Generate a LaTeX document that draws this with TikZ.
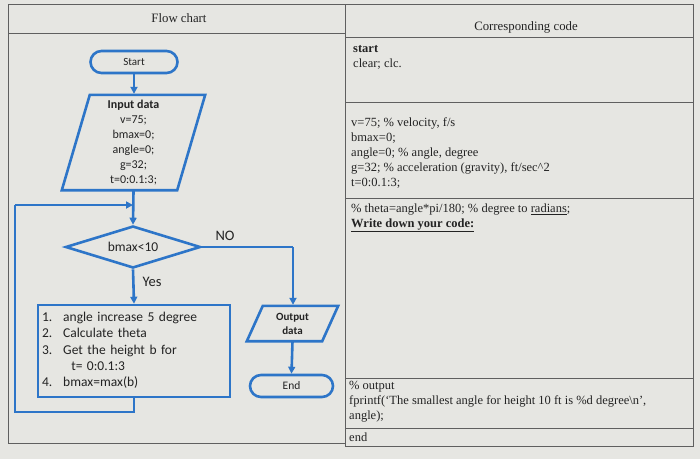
\documentclass[tikz,border=0pt]{standalone}
\usepackage{fontspec}
\setmainfont{Liberation Serif}
\newfontfamily\carl{Carlito}
\usetikzlibrary{shapes.geometric,arrows.meta}
\definecolor{bg}{RGB}{230,230,226}
\definecolor{fcblue}{RGB}{45,117,200}
\definecolor{rule}{RGB}{95,95,95}
\definecolor{ink}{RGB}{35,35,35}
\tikzset{
  fc/.style={draw=fcblue, line width=2.6pt},
  term/.style={fc, rounded corners=11pt, minimum width=87pt, minimum height=22pt, inner sep=0pt, font=\carl\fontsize{11}{12}\selectfont, text=ink},
  flow/.style={draw=fcblue, line width=2.6pt, -{Triangle[length=7pt,width=7pt]}},
  plain/.style={draw=fcblue, line width=2.6pt},
  tab/.style={draw=rule, line width=0.9pt},
  code/.style={anchor=west, inner sep=0pt, font=\fontsize{12.5}{15}\selectfont, text=ink, align=left},
  lbl/.style={inner sep=0pt, font=\carl\fontsize{14.5}{16}\selectfont, text=ink},
}
\begin{document}
\begin{tikzpicture}[x=1pt,y=-1pt]
\fill[bg] (0,0) rectangle (700,459);
\useasboundingbox (0,0) rectangle (700,459);
% table
\draw[tab] (8,4) -- (693,4);
\draw[tab] (8,4) -- (8,443) -- (345,443);
\draw[tab] (345,4) -- (345,446) -- (693,446) -- (693,4);
\draw[tab] (8,33) -- (345,33);
\draw[tab] (345,37) -- (693,37);
\draw[tab] (345,102) -- (693,102);
\draw[tab] (345,198) -- (693,198);
\draw[tab] (345,378) -- (693,378);
\draw[tab] (345,428) -- (693,428);
\node[inner sep=0pt, font=\fontsize{12.8}{14}\selectfont, text=ink] (h1) at (179,18) {Flow chart};
\node[inner sep=0pt, font=\fontsize{12.8}{14}\selectfont, text=ink] (h2) at (526,27) {Corresponding code};
% code column
\node[code] (c1) at (353,57) {\textbf{start}\\clear; clc.};
\node[code] (c2) at (351,153) {v=75; \% velocity, f/s\\bmax=0;\\angle=0; \% angle, degree\\g=32; \% acceleration (gravity), ft/sec\^{}2\\t=0:0.1:3;};
\node[code] (c3) at (351,218) {\% theta=angle*pi/180; \% degree to \underline{radians};\\\textbf{\underline{Write down your code:}}};
\node[code] (c4) at (349,402) {\% output\\fprintf(`The smallest angle for height 10 ft is \%d degree\textbackslash n',\\angle);};
\node[code] (c5) at (349,437) {end};
% flowchart nodes
\node[term] (start) at (134,62) {Start};
\node[inner sep=0pt, minimum width=115pt, minimum height=95pt, align=center, font=\carl\fontsize{12}{15}\selectfont, text=ink] (inp) at (133.5,142.5) {\textbf{Input data}\\v=75;\\bmax=0;\\angle=0;\\g=32;\\t=0:0.1:3;};
\draw[fc] ([xshift=14pt]inp.north west) -- ([xshift=14pt]inp.north east) -- ([xshift=-14pt]inp.south east) -- ([xshift=-14pt]inp.south west) -- cycle;
\node[diamond, aspect=3.2, fc, minimum width=135pt, minimum height=42pt, inner sep=0pt, font=\carl\fontsize{13.5}{14}\selectfont, text=ink] (dec) at (133,247) {bmax<10};
\node[fc, minimum width=192pt, minimum height=92pt, inner xsep=4pt, text width=184pt, align=left, font=\carl\fontsize{13.5}{16.3}\selectfont, text=ink] (proc) at (134,351)
  {\begin{tabular}{@{}l@{\hspace{11pt}}l@{}}1.& angle increase 5 degree\\2.& Calculate theta\\3.& Get the height b for\\& \hspace{8pt}t= 0:0.1:3\\4.& bmax=max(b)\end{tabular}};
\node[inner sep=0pt, minimum width=75pt, minimum height=35pt, align=center, font=\carl\bfseries\fontsize{11}{14}\selectfont, text=ink] (out) at (292.5,323.5) {Output\\data};
\draw[fc] ([xshift=8pt]out.north west) -- ([xshift=8pt]out.north east) -- ([xshift=-8pt]out.south east) -- ([xshift=-8pt]out.south west) -- cycle;
\node[term, minimum width=83pt, font=\carl\fontsize{11.5}{12}\selectfont] (end) at (291.5,386) {End};
\node[lbl] (no) at (225,236) {NO};
\node[lbl] (yes) at (152,282) {Yes};
% connectors
\coordinate (bl) at (15,412);
\coordinate (tl) at (15,205);
\coordinate (jn) at (133,205);
\coordinate (nr) at (293,247);
\draw[flow] (start.south) -- ([yshift=1pt]inp.north -| start.south);
\draw[flow] ([yshift=-1pt]inp.south) -- (dec.north);
\draw[flow] (dec.south) -- (proc.north);
\draw[plain] (proc.south) |- (bl) -- (tl);
\draw[flow] (tl) -- (jn);
\draw[plain] (dec.east) -- (nr);
\draw[flow] (nr) -- ([yshift=1pt]out.north -| nr);
\draw[flow] (out.south) -- (end.north);
\end{tikzpicture}
\end{document}
